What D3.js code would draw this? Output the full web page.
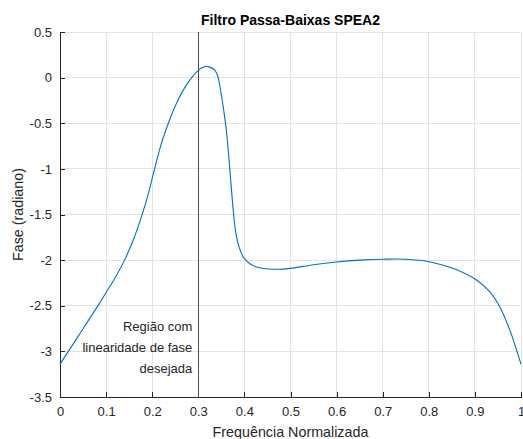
<!DOCTYPE html>
<html>
<head>
<meta charset="utf-8">
<script src="https://cdn.jsdelivr.net/npm/d3@7"></script>
<style>
  html, body { margin: 0; padding: 0; background: #fff; }
  svg { display: block; font-family: "Liberation Sans", Arial, Helvetica, sans-serif; }
</style>
</head>
<body>
<svg id="chart" width="523" height="439"></svg>
<script>
// ---- data ----
const freq = [0.000, 0.040, 0.081, 0.100, 0.120, 0.140, 0.160, 0.178, 0.1925, 0.2046, 0.220, 0.235, 0.250, 0.267, 0.2856, 0.300, 0.309, 0.317, 0.325, 0.336, 0.342, 0.347, 0.354, 0.360, 0.365, 0.371, 0.377, 0.382, 0.388, 0.395, 0.401, 0.412, 0.423, 0.445, 0.470, 0.500, 0.550, 0.600, 0.650, 0.701, 0.750, 0.803, 0.852, 0.904, 0.933, 0.954, 0.976, 0.990, 1.000];
const phase = [-3.14, -2.83, -2.51, -2.355, -2.19, -2.00, -1.765, -1.505, -1.255, -1.01, -0.72, -0.50, -0.31, -0.14, 0.00, 0.08, 0.11, 0.125, 0.115, 0.08, 0.02, -0.10, -0.32, -0.54, -0.80, -1.17, -1.52, -1.72, -1.85, -1.94, -1.99, -2.04, -2.07, -2.095, -2.10, -2.09, -2.05, -2.02, -2.00, -1.99, -1.99, -2.02, -2.09, -2.22, -2.35, -2.51, -2.77, -2.98, -3.14];
const xTicks = [0, 0.1, 0.2, 0.3, 0.4, 0.5, 0.6, 0.7, 0.8, 0.9, 1];
const xTickLabels = ["0", "0.1", "0.2", "0.3", "0.4", "0.5", "0.6", "0.7", "0.8", "0.9", "1"];
const yTicks = [-3.5, -3, -2.5, -2, -1.5, -1, -0.5, 0, 0.5];
const yTickLabels = ["-3.5", "-3", "-2.5", "-2", "-1.5", "-1", "-0.5", "0", "0.5"];
const markerX = [0.3];
const annotationLines = ["Região com", "linearidade de fase", "desejada"];
const titleText = "Filtro Passa-Baixas SPEA2";
const xLabelText = "Frequência Normalizada";
const yLabelText = "Fase (radiano)";

// ---- layout ----
const svg = d3.select("#chart");
const L = 60, R = 521, T = 32, B = 397;
const x = d3.scaleLinear().domain([0, 1]).range([L, R]);
const y = d3.scaleLinear().domain([-3.5, 0.5]).range([B, T]);
const axisColor = "#262626";
const gridColor = "#e3e3e3";

// grid
svg.append("g").selectAll("line").data(xTicks.slice(1)).join("line")
  .attr("x1", d => x(d)).attr("x2", d => x(d)).attr("y1", T).attr("y2", B)
  .attr("stroke", gridColor).attr("stroke-width", 1).attr("shape-rendering", "crispEdges");
svg.append("g").selectAll("line").data(yTicks.slice(1)).join("line")
  .attr("x1", L).attr("x2", R).attr("y1", d => y(d)).attr("y2", d => y(d))
  .attr("stroke", gridColor).attr("stroke-width", 1).attr("shape-rendering", "crispEdges");

// axes (ticks inside)
const xAxis = d3.axisBottom(x).tickValues(xTicks)
  .tickFormat((d, i) => xTickLabels[i]).tickSizeInner(-5).tickSizeOuter(0).tickPadding(10);
const gx = svg.append("g").attr("transform", `translate(0,${B})`).call(xAxis);
const yAxis = d3.axisLeft(y).tickValues(yTicks)
  .tickFormat((d, i) => yTickLabels[i]).tickSizeInner(-5).tickSizeOuter(0).tickPadding(8);
const gy = svg.append("g").attr("transform", `translate(${L},0)`).call(yAxis);
[gx, gy].forEach(g => {
  g.select(".domain").attr("stroke", axisColor).attr("shape-rendering", "crispEdges");
  g.selectAll(".tick line").attr("stroke", axisColor).attr("shape-rendering", "crispEdges");
  g.selectAll(".tick text").attr("fill", axisColor)
    .style("font-family", '"Liberation Sans", Arial, sans-serif').style("font-size", "13px");
});

// vertical marker line
svg.append("g").selectAll("line").data(markerX).join("line")
  .attr("x1", d => x(d)).attr("x2", d => x(d)).attr("y1", T).attr("y2", B)
  .attr("stroke", "#4d4d4d").attr("stroke-width", 1).attr("shape-rendering", "crispEdges");

// curve
const pts = freq.map((f, i) => [f, phase[i]]);
svg.append("path").datum(pts)
  .attr("fill", "none").attr("stroke", "#0072BD").attr("stroke-width", 1.1)
  .attr("d", d3.line().x(d => x(d[0])).y(d => y(d[1])).curve(d3.curveCatmullRom.alpha(0.5)));

// annotation
svg.append("g").selectAll("text").data(annotationLines).join("text")
  .attr("x", x(markerX[0]) - 6).attr("y", (d, i) => 331 + i * 20.8)
  .attr("text-anchor", "end").attr("fill", axisColor)
  .style("font-size", "13px").text(d => d);

// title & labels
svg.append("text").attr("x", (L + R) / 2).attr("y", 25).attr("text-anchor", "middle")
  .attr("fill", "#000").style("font-size", "14px").style("font-weight", "bold").text(titleText);
svg.append("text").attr("x", (L + R) / 2).attr("y", 437).attr("text-anchor", "middle")
  .attr("fill", axisColor).style("font-size", "14.3px").text(xLabelText);
svg.append("text").attr("transform", `translate(23,${(T + B) / 2}) rotate(-90)`)
  .attr("text-anchor", "middle").attr("fill", axisColor).style("font-size", "14.3px").text(yLabelText);
</script>
</body>
</html>
